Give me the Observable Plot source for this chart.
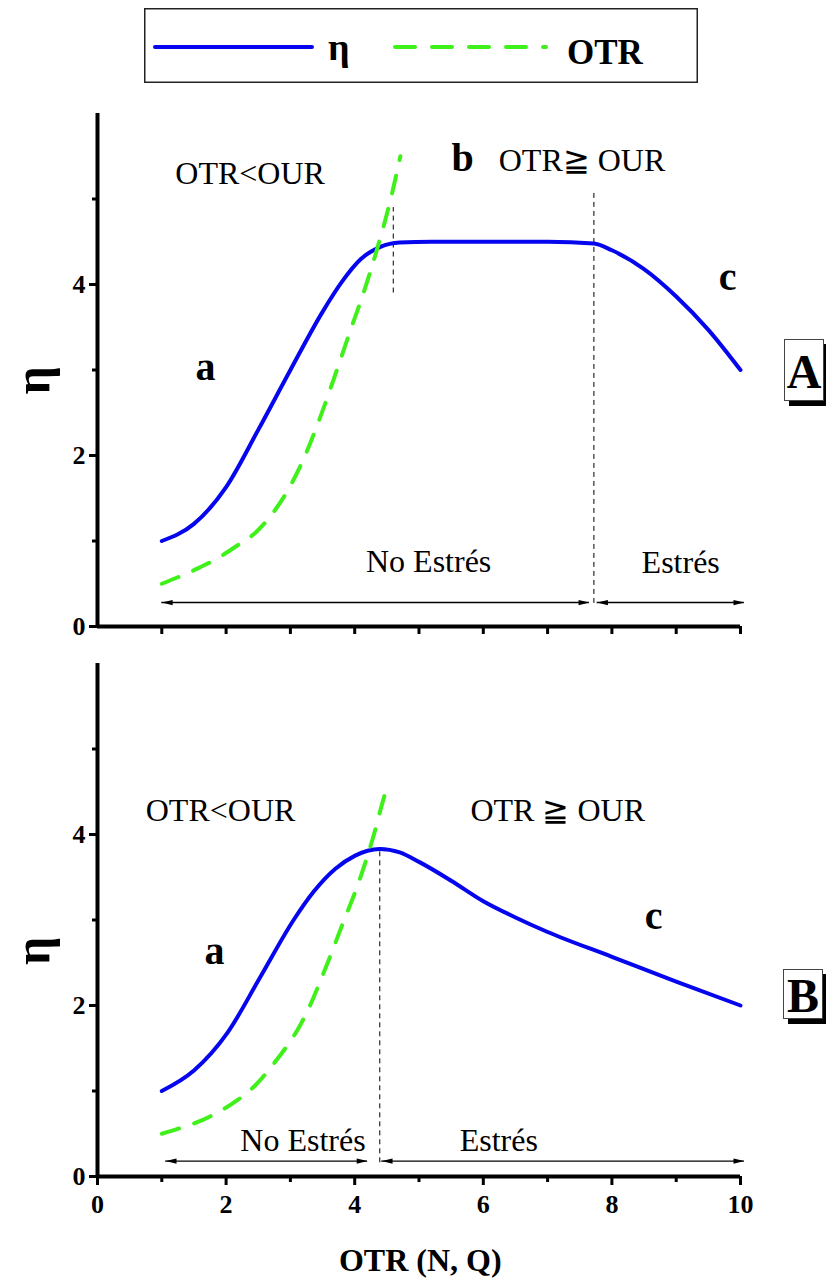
<!DOCTYPE html>
<html><head><meta charset="utf-8">
<script src="https://cdn.jsdelivr.net/npm/d3@7"></script>
<script src="https://cdn.jsdelivr.net/npm/@observablehq/plot@0.6"></script>
<style>
body{margin:0;background:#fff;}
#page{position:relative;width:826px;height:1282px;overflow:hidden;font-family:"Liberation Serif","Times New Roman",serif;color:#000;}
.panel{position:absolute;left:0;}
.panel text{font-family:"Liberation Serif","Times New Roman",serif;}
.tag{position:absolute;border:1px solid #444;background:#fff;box-shadow:5px 5px 0 #000;font-weight:bold;font-size:48px;line-height:1;text-align:center;box-sizing:border-box;}
#legend{position:absolute;left:144px;top:8px;}
#legend text{font-family:"Liberation Serif","Times New Roman",serif;}
</style></head><body><div id="page"></div>
<script>
// ---------- data ----------
const xMajor = [0, 2, 4, 6, 8, 10];
const xMinor = [1, 3, 5, 7, 9];
const xAllA = [1, 2, 3, 4, 5, 6, 7, 8, 9, 10];
const yMajor = [0, 2, 4];
const yMinor = [1, 3, 5];

// Panel A
const etaAx = [1, 1.5, 2, 2.5, 3, 3.5, 3.8, 4.1, 4.4, 4.7, 5.2, 6, 7, 7.72, 8, 8.5, 9, 9.5, 10];
const etaAy = [1.0, 1.2, 1.63, 2.3, 3.0, 3.68, 4.03, 4.3, 4.44, 4.49, 4.5, 4.5, 4.5, 4.48, 4.40, 4.18, 3.86, 3.47, 3.0];
const otrAx = [1, 1.56, 1.87, 2.18, 2.46, 2.72, 2.95, 3.2, 3.45, 3.7, 3.95, 4.15, 4.35, 4.56, 4.71];
const otrAy = [0.5, 0.68, 0.8, 0.95, 1.1, 1.32, 1.58, 1.95, 2.42, 2.95, 3.5, 3.93, 4.42, 5.0, 5.5];

// Panel B
const etaBx = [1, 1.5, 2.02, 2.53, 3.05, 3.36, 3.7, 4.0, 4.2, 4.39, 4.7, 5.0, 5.5, 6, 6.5, 7, 8, 9, 10];
const etaBy = [1.0, 1.24, 1.68, 2.33, 3.0, 3.33, 3.6, 3.75, 3.81, 3.83, 3.79, 3.68, 3.46, 3.22, 3.03, 2.86, 2.57, 2.28, 2.0];
const otrBx = [1, 1.26, 1.6, 1.87, 2.17, 2.46, 2.72, 2.95, 3.13, 3.28, 3.5, 3.8, 4.09, 4.28, 4.45, 4.53];
const otrBy = [0.5, 0.56, 0.65, 0.75, 0.89, 1.07, 1.3, 1.53, 1.74, 1.96, 2.35, 2.93, 3.5, 3.95, 4.42, 4.62];

// reference lines and arrows
const dashA = [{x: 4.6, y1: 3.9, y2: 4.9}, {x: 7.72, y1: 0.27, y2: 5.08}];
const dashB = [{x: 4.39, y1: 0.16, y2: 3.83}];
const arrowsA = [{x1: 1.0, x2: 7.65, y: 0.28}, {x1: 7.77, x2: 10.06, y: 0.28}];
const arrowsB = [{x1: 1.06, x2: 4.2, y: 0.18}, {x1: 4.42, x2: 10.06, y: 0.18}];

// annotations
const textA = [
  {x: 1.21, y: 5.18, t: "OTR<OUR", a: "start"},
  {x: 6.24, y: 5.33, t: "OTR\u2267 OUR", a: "start"},
  {x: 5.15, y: 0.64, t: "No Estrés", a: "middle"},
  {x: 9.07, y: 0.62, t: "Estrés", a: "middle"}
];
const lettersA = [{x: 1.68, y: 2.88, t: "a"}, {x: 5.68, y: 5.33, t: "b"}, {x: 9.8, y: 3.93, t: "c"}];
const textB = [
  {x: 0.75, y: 4.16, t: "OTR<OUR", a: "start"},
  {x: 5.8, y: 4.16, t: "OTR \u2267 OUR", a: "start"},
  {x: 4.17, y: 0.30, t: "No Estrés", a: "end"},
  {x: 6.24, y: 0.30, t: "Estrés", a: "middle"}
];
const lettersB = [{x: 1.82, y: 2.49, t: "a"}, {x: 8.65, y: 2.9, t: "c"}];

const BLUE = "#0505ee";
const GREEN = "#40f01a";
const FONT = "'Liberation Serif', 'Times New Roman', serif";

const zip = (xs, ys) => xs.map((x, i) => ({x, y: ys[i]}));

const headRight = {draw(ctx, size) { const s = Math.sqrt(size); ctx.moveTo(0, 0); ctx.lineTo(-s * 1.7, -s * 0.42); ctx.lineTo(-s * 1.7, s * 0.42); ctx.closePath(); }};
const headLeft = {draw(ctx, size) { const s = Math.sqrt(size); ctx.moveTo(0, 0); ctx.lineTo(s * 1.7, -s * 0.42); ctx.lineTo(s * 1.7, s * 0.42); ctx.closePath(); }};

function panel({eta, otr, dashes, arrows, texts, letters, labels, height, marginBottom, yLabelY}) {
  const textMark = (anchor) => Plot.text(texts.filter(d => d.a === anchor), {x: "x", y: "y", text: "t", textAnchor: anchor, lineAnchor: "bottom", fontSize: 32, fill: "black"});
  const marks = [
    // axes
    Plot.axisY(yMajor, {tickSize: 8, tickPadding: 4, fontSize: 26, fontWeight: "bold", strokeWidth: 3, tickFormat: d => String(d), label: null}),
    Plot.axisY(yMinor, {tickSize: 5, strokeWidth: 3, tickFormat: () => "", label: null}),
    labels
      ? Plot.axisX(xMajor, {tickSize: 9, tickPadding: 9, fontSize: 26, fontWeight: "bold", strokeWidth: 3, tickFormat: d => String(d), label: null})
      : Plot.axisX(xAllA, {tickSize: 8, strokeWidth: 3, tickFormat: () => "", label: null}),
    labels ? Plot.axisX(xMinor, {tickSize: 6, strokeWidth: 3, tickFormat: () => "", label: null}) : null,
    Plot.ruleX([0], {y1: 0, y2: 6, strokeWidth: 4}),
    Plot.ruleY([0], {x1: 0, x2: 10, strokeWidth: 4}),
    // reference dashed lines
    Plot.ruleX(dashes, {x: "x", y1: "y1", y2: "y2", strokeWidth: 1, strokeDasharray: "5,4"}),
    // arrows
    Plot.ruleY(arrows, {y: "y", x1: "x1", x2: "x2", strokeWidth: 1.4}),
    Plot.dot(arrows, {x: "x1", y: "y", symbol: headLeft, r: 3.6, fill: "black", stroke: null}),
    Plot.dot(arrows, {x: "x2", y: "y", symbol: headRight, r: 3.6, fill: "black", stroke: null}),
    // curves
    Plot.line(eta, {x: "x", y: "y", curve: "monotone-x", stroke: BLUE, strokeWidth: 4}),
    Plot.line(otr, {x: "x", y: "y", curve: "monotone-x", stroke: GREEN, strokeWidth: 4, strokeDasharray: "18,16"}),
    // texts
    textMark("start"), textMark("middle"), textMark("end"),
    Plot.text(letters, {x: "x", y: "y", text: "t", textAnchor: "middle", lineAnchor: "bottom", fontSize: 40, fontWeight: "bold", fill: "black"}),
    Plot.text([{x: -1.0, y: yLabelY}], {x: "x", y: "y", text: () => "\u03b7", rotate: -90, fontSize: 50, fontWeight: "bold", fill: "black"})
  ];
  if (labels) {
    marks.push(Plot.text([{x: 5.02, y: 0}], {x: "x", y: "y", text: () => "OTR (N, Q)", dy: 94, lineAnchor: "bottom", fontSize: 32, fontWeight: "bold", fill: "black"}));
  }
  return Plot.plot({
    width: 826, height, marginLeft: 97, marginRight: 86, marginTop: 23, marginBottom,
    x: {domain: [0, 10]}, y: {domain: [0, 6]},
    style: {fontFamily: FONT, background: "transparent", color: "black", overflow: "visible"},
    marks: marks.filter(Boolean)
  });
}

const page = document.getElementById("page");

// legend
const legend = `
<svg id="legend" width="554" height="75" xmlns="http://www.w3.org/2000/svg">
  <rect x="0.75" y="0.75" width="552.5" height="73.5" fill="white" stroke="#222" stroke-width="1.5"/>
  <line x1="11" y1="39" x2="168" y2="39" stroke="${BLUE}" stroke-width="4" stroke-linecap="round"/>
  <text x="184" y="52" font-size="38" font-weight="bold">\u03b7</text>
  <line x1="251" y1="39" x2="402" y2="39" stroke="${GREEN}" stroke-width="4" stroke-linecap="round" stroke-dasharray="20,17"/>
  <text x="423" y="56" font-size="35" font-weight="bold">OTR</text>
</svg>`;
page.insertAdjacentHTML("beforeend", legend);

const pA = panel({eta: zip(etaAx, etaAy), otr: zip(otrAx, otrAy), dashes: dashA, arrows: arrowsA, texts: textA, letters: lettersA, labels: false, height: 550, marginBottom: 14, yLabelY: 2.88});
pA.classList.add("panel"); pA.style.top = "90px";
page.appendChild(pA);

const pB = panel({eta: zip(etaBx, etaBy), otr: zip(otrBx, otrBy), dashes: dashB, arrows: arrowsB, texts: textB, letters: lettersB, labels: true, height: 642, marginBottom: 106, yLabelY: 2.64});
pB.classList.add("panel"); pB.style.top = "640px";
page.appendChild(pB);

// panel tags
page.insertAdjacentHTML("beforeend", `<div class="tag" style="left:784px;top:339px;width:40px;height:62px;padding-top:8px;">A</div>`);
page.insertAdjacentHTML("beforeend", `<div class="tag" style="left:783px;top:969px;width:40px;height:50px;padding-top:2px;">B</div>`);
</script>
</body></html>
